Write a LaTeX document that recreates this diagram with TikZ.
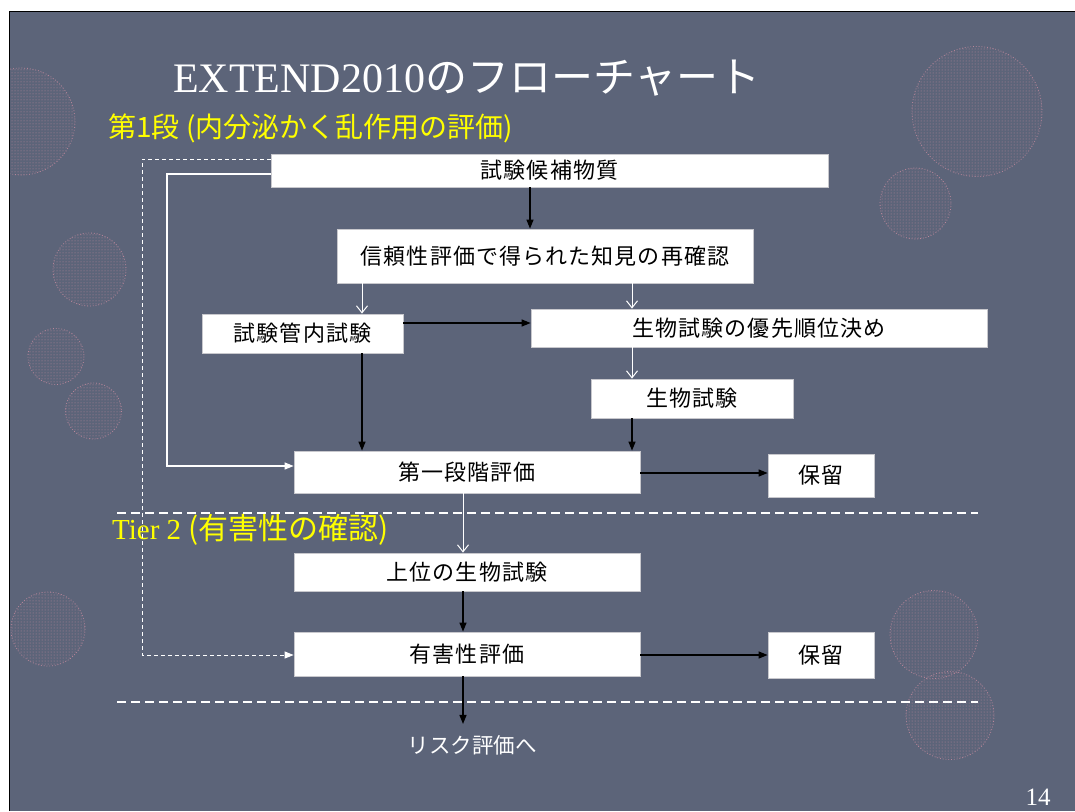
\documentclass[tikz,border=0pt]{standalone}
\usepackage{fontspec}
\setmainfont{Liberation Serif}
\newfontfamily\jp{Noto Sans CJK JP}
\newfontfamily\jpbox[LetterSpace=5]{Noto Sans CJK JP}
\usetikzlibrary{arrows.meta,patterns}
\definecolor{slidebg}{RGB}{92,100,121}
\definecolor{dotpink}{RGB}{185,135,155}
\definecolor{ylw}{RGB}{255,255,0}
\definecolor{boxedge}{RGB}{200,200,205}
\tikzset{
 box/.style={draw=boxedge, line width=0.8pt, fill=white, inner sep=0pt, text=black, font=\jpbox\fontsize{22}{22}\selectfont},
 blk/.style={draw=black, line width=1.3pt, -{Triangle[length=9pt,width=7pt]}},
 wht/.style={draw=white, line width=1pt, -{Straight Barb[length=7pt,width=11pt]}},
 loopline/.style={draw=white, line width=1.2pt, -{Triangle[length=9pt,width=7pt,fill=white]}},
 sepline/.style={draw=white, line width=2.5pt, dash pattern=on 9pt off 5pt},
 deco/.style={pattern=dots, pattern color=dotpink, draw=dotpink, dotted, line width=0.8pt},
 lbl/.style={inner sep=0pt}
}
\begin{document}
\begin{tikzpicture}[x=1pt,y=-1pt]
\useasboundingbox (0,0) rectangle (1075,811);
\fill[white] (0,0) rectangle (1075,811);
\fill[slidebg] (9,11) rectangle (1075,811);
\begin{scope}
\clip (9,11) rectangle (1075,811);
\foreach \cx/\cy/\r in {21.5/121.5/53.5, 977/111.5/65, 915.5/203.5/35.5, 89.5/269.5/36.5, 56/356.5/28, 93.5/411/28, 48/629/37, 934/634.5/44, 950/715.5/44}
  \path[deco] (\cx,\cy) circle[radius=\r];
\end{scope}
\draw[black, line width=1pt] (9,811) -- (9,11) -- (1075,11);

% titles
\node[lbl, anchor=base west, text=white, font=\fontsize{42}{42}\selectfont] (title) at (173,92) {EXTEND2010{\jp のフローチャート}};
\node[lbl, anchor=west, text=ylw, font=\jp\fontsize{28}{28}\selectfont] (tier1) at (108,128) {第1段 (内分泌かく乱作用の評価)};
\node[lbl, anchor=west, text=ylw, font=\fontsize{29}{29}\selectfont] (tier2) at (112,530) {Tier 2 {\jp\fontsize{30}{30}\selectfont (有害性の確認)}};

% boxes
\node[box, minimum width=557, minimum height=33] (cand) at (549.5,170.5) {試験候補物質};
\node[box, minimum width=416, minimum height=54] (rel) at (545,256) {信頼性評価で得られた知見の再確認};
\node[box, minimum width=201, minimum height=39] (vitro) at (302.5,333.5) {試験管内試験};
\node[box, minimum width=456, minimum height=38] (prio) at (759,328) {生物試験の優先順位決め};
\node[box, minimum width=202, minimum height=39] (bio) at (692,398.5) {生物試験};
\node[box, minimum width=346, minimum height=42] (first) at (467,472) {第一段階評価};
\node[box, minimum width=106, minimum height=43] (hold1) at (821,475.5) {保留};
\node[box, minimum width=346, minimum height=38] (upper) at (467,572) {上位の生物試験};
\node[box, minimum width=346, minimum height=44] (harm) at (467,654) {有害性評価};
\node[box, minimum width=106, minimum height=46] (hold2) at (821,655) {保留};
\node[lbl, text=white, font=\jp\fontsize{21.5}{21.5}\selectfont] (risk) at (472,745) {リスク評価へ};
\node[lbl, text=white, font=\fontsize{25}{25}\selectfont] (pg) at (1038,797) {14};

% separators
\draw[sepline] (117,513) -- (978,513);
\draw[sepline] (117,702) -- (978,702);

% helper coordinates
\coordinate (x530) at (530,0);
\coordinate (x362) at (362,0);
\coordinate (x632) at (632,0);
\coordinate (x463) at (463,0);
\coordinate (y323) at (0,323);
\coordinate (y473) at (0,473);
\coordinate (y655) at (0,655);
\coordinate (riskTop) at ([yshift=11pt]risk.north);

% connectors
\draw[blk] (cand.south -| x530) -- (rel.north -| x530);
\draw[wht] (rel.south -| x362) -- (vitro.north -| x362);
\draw[wht] (rel.south -| x632) -- (prio.north -| x632);
\draw[blk] (vitro.east |- y323) -- (prio.west |- y323);
\draw[blk] (vitro.south -| x362) -- (first.north -| x362);
\draw[wht] (prio.south -| x632) -- (bio.north -| x632);
\draw[blk] (bio.south -| x632) -- (first.north -| x632);
\draw[blk] (first.east |- y473) -- (hold1.west |- y473);
\draw[wht] (first.south -| x463) -- (upper.north -| x463);
\draw[blk] (upper.south -| x463) -- (harm.north -| x463);
\draw[blk] (harm.east |- y655) -- (hold2.west |- y655);
\draw[blk] (harm.south -| x463) -- (riskTop -| x463);

% loops
\coordinate (lpA) at (167,174);
\coordinate (lpB) at (167,466);
\draw[loopline] (cand.west |- lpA) -- (lpA) -- (lpB) -- (first.west |- lpB);
\coordinate (dA) at (142,159);
\coordinate (dB) at (142,655);
\draw[loopline, line width=1pt, dash pattern=on 4pt off 3pt] (cand.west |- dA) -- (dA) -- (dB) -- (harm.west |- dB);
\end{tikzpicture}
\end{document}
